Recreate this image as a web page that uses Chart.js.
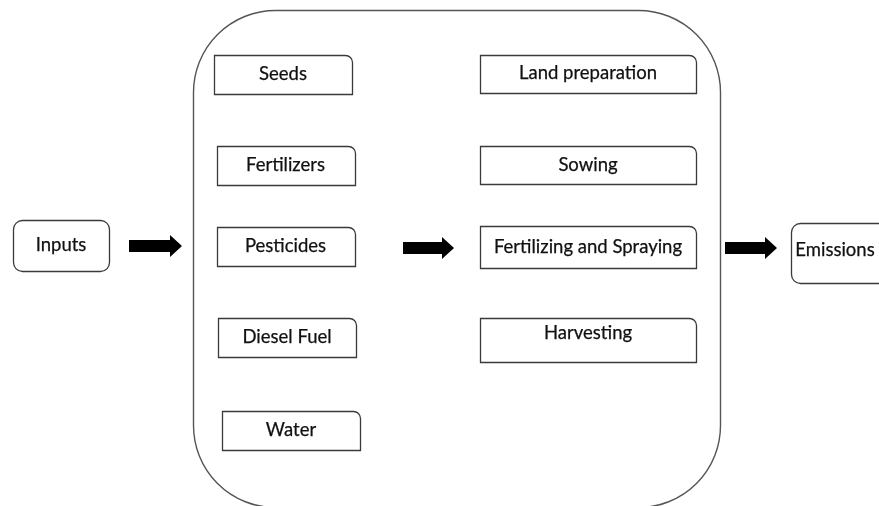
<!DOCTYPE html>
<html>
<head>
<meta charset="utf-8">
<script src="https://cdn.jsdelivr.net/npm/chart.js@4"></script>
<style>
  html, body { margin: 0; padding: 0; background: #fff; }
  #wrap { width: 879px; height: 506px; position: relative; }
</style>
</head>
<body>
<div id="wrap"><canvas id="flow"></canvas></div>
<script>
// flow nodes, left to right
const sourceLabels = ["Inputs"];
const inputItems = ["Seeds", "Fertilizers", "Pesticides", "Diesel Fuel", "Water"];
const stageItems = ["Land preparation", "Sowing", "Fertilizing and Spraying", "Harvesting"];
const outputLabels = ["Emissions"];

// node centres in axis units (x 0-879, y 0-506 from top)
const sourceX = [61];
const sourceY = [245.5];
const inputItemX = [283, 285.5, 285.5, 287, 291];
const inputItemY = [74.5, 165.5, 246.5, 337.5, 430.5];
const stageX = [588, 588, 588, 588];
const stageY = [74, 165, 247, 340];
const outputX = [839];
const outputY = [253];

// arrows: start x, end x, y
const arrowFrom = [129, 403, 725];
const arrowTo = [182, 454, 777];
const arrowY = [246, 248, 248];

// box sizes (px) and styling
const layout = {
  source: { w: 96, h: 51, radius: [9, 9, 9, 9] },
  input: { w: 138, h: 39, radius: [0, 7, 0, 0] },
  stage: { w: 216, h: [38, 38, 42, 44], radius: [0, 7, 0, 0], textShift: [-1, 0, 0, -7] },
  output: { w: 96, h: 60, radius: [9, 9, 9, 9], textShift: [-3], textShiftX: [-4] },
  container: { x0: 193, x1: 720, y0: 10, y1: 507, radius: 82 },
  font: "18.5px Lato",
  textColor: "#111",
  lineColor: "#3a3a3a",
};

const toPoints = (xs, ys) => xs.map((x, i) => ({ x, y: ys[i] }));

const flowPlugin = {
  id: "flow",
  afterDatasetsDraw(chart) {
    const ctx = chart.ctx;
    const sx = chart.scales.x, sy = chart.scales.y;

    // big rounded container
    const c = layout.container;
    ctx.save();
    ctx.strokeStyle = "#555";
    ctx.lineWidth = 1.4;
    ctx.beginPath();
    const cx0 = sx.getPixelForValue(c.x0), cx1 = sx.getPixelForValue(c.x1);
    const cy0 = sy.getPixelForValue(c.y0), cy1 = sy.getPixelForValue(c.y1);
    ctx.roundRect(cx0 + 0.5, cy0 + 0.5, cx1 - cx0, cy1 - cy0, c.radius);
    ctx.stroke();

    // arrows
    ctx.fillStyle = "#000";
    arrowFrom.forEach((x0, i) => {
      const a = sx.getPixelForValue(x0), b = sx.getPixelForValue(arrowTo[i]);
      const y = sy.getPixelForValue(arrowY[i]);
      const head = 12, shaft = 6, wing = 11;
      ctx.beginPath();
      ctx.moveTo(a, y - shaft);
      ctx.lineTo(b - head, y - shaft);
      ctx.lineTo(b - head, y - wing);
      ctx.lineTo(b, y);
      ctx.lineTo(b - head, y + wing);
      ctx.lineTo(b - head, y + shaft);
      ctx.lineTo(a, y + shaft);
      ctx.closePath();
      ctx.fill();
    });

    // boxes with labels, centred on the dataset points
    const kinds = ["source", "input", "stage", "output"];
    chart.data.datasets.forEach((ds, di) => {
      const cfg = layout[kinds[di]];
      chart.getDatasetMeta(di).data.forEach((pt, i) => {
        const w = cfg.w;
        const h = Array.isArray(cfg.h) ? cfg.h[i] : cfg.h;
        const x = Math.round(pt.x - w / 2) + 0.5;
        const y = Math.round(pt.y - h / 2) + 0.5;
        ctx.strokeStyle = layout.lineColor;
        ctx.lineWidth = 1.3;
        ctx.fillStyle = "#fff";
        ctx.beginPath();
        ctx.roundRect(x, y, w, h, cfg.radius);
        ctx.fill();
        ctx.stroke();
        // label, lightly stroked to get the heavier look of the original
        ctx.fillStyle = layout.textColor;
        ctx.strokeStyle = layout.textColor;
        ctx.lineWidth = 0.25;
        ctx.font = layout.font;
        ctx.textAlign = "center";
        ctx.textBaseline = "middle";
        const dy = cfg.textShift ? cfg.textShift[i] : 0;
        const dx = cfg.textShiftX ? cfg.textShiftX[i] : 0;
        ctx.fillText(ds.labels[i], pt.x + dx, pt.y + dy);
        ctx.strokeText(ds.labels[i], pt.x + dx, pt.y + dy);
      });
    });
    ctx.restore();
  },
};

new Chart(document.getElementById("flow"), {
  type: "scatter",
  data: {
    datasets: [
      { label: "source", labels: sourceLabels, data: toPoints(sourceX, sourceY), pointRadius: 0 },
      { label: "inputs", labels: inputItems, data: toPoints(inputItemX, inputItemY), pointRadius: 0 },
      { label: "stages", labels: stageItems, data: toPoints(stageX, stageY), pointRadius: 0 },
      { label: "output", labels: outputLabels, data: toPoints(outputX, outputY), pointRadius: 0 },
    ],
  },
  options: {
    responsive: true,
    maintainAspectRatio: false,
    animation: false,
    layout: { padding: 0 },
    events: [],
    plugins: { legend: { display: false }, tooltip: { enabled: false } },
    scales: {
      x: { type: "linear", min: 0, max: 879, display: false },
      y: { type: "linear", min: 0, max: 506, reverse: true, display: false },
    },
  },
  plugins: [flowPlugin],
});
</script>
</body>
</html>
